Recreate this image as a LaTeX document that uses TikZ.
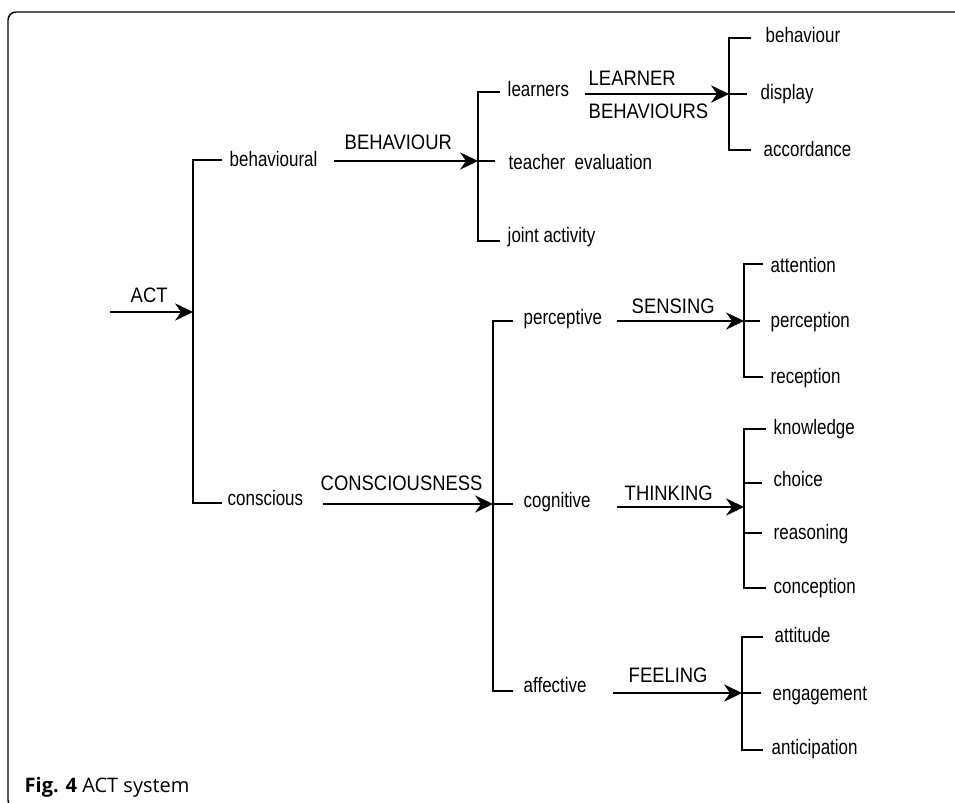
\documentclass[tikz,border=0pt]{standalone}
\usepackage{fontspec}
\setmainfont{Liberation Sans}
\newfontfamily\itmfont{Liberation Sans}[FakeStretch=0.81]
\newfontfamily\labfont{Liberation Sans}[FakeStretch=0.88]
\newfontfamily\capfont{Open Sans}
\usetikzlibrary{arrows.meta}
\begin{document}
\begin{tikzpicture}[x=0.75pt,y=-0.75pt,line width=1.1pt,
  itm/.style={anchor=west,inner sep=0pt,text height=11.2pt,text depth=0pt,font=\itmfont\fontsize{15.7}{18}\selectfont},
  lab/.style={anchor=west,inner sep=0pt,text height=11.2pt,text depth=0pt,font=\labfont\fontsize{15.7}{18}\selectfont},
  arr/.style={-{Stealth[length=13.5pt,width=13pt,inset=4.5pt]}},
  frame/.style={line width=1.1pt,rounded corners=6pt}]
\useasboundingbox (0,0) rectangle (955,802);
% frame
\draw[frame] (8,12) rectangle (968,808);
% ---------- root ----------
\coordinate (acts) at (110,312);
\coordinate (b1) at (193,312);
\coordinate (b1t) at (193,160);
\coordinate (b1b) at (193,503);
\node[lab] (actl) at (130,295.5) {ACT};
\draw[arr] (acts) -- (b1);
\draw (222,160) -- (b1t) -- (b1b) -- (222,503);
\node[itm] (behavioural) at (229,159.5) {behavioural};
\node[itm] (conscious) at (227,498.5) {conscious};
% ---------- behavioural branch ----------
\coordinate (a2s) at (334,161);
\coordinate (b2) at (478,161);
\coordinate (b2t) at (478,92);
\coordinate (b2b) at (478,241);
\node[lab] (behl) at (344,142.5) {BEHAVIOUR};
\draw[arr] (a2s) -- (b2);
\draw (500,92) -- (b2t) -- (b2b) -- (500,241);
\draw (b2) -- (495,161);
\node[itm] (learners) at (507,89.5) {learners};
\node[itm] (teacher) at (508,162.5) {teacher~~evaluation};
\node[itm] (joint) at (507,235.5) {joint activity};
% learners branch
\coordinate (a3s) at (585,94);
\coordinate (b3) at (729,94);
\coordinate (b3t) at (729,38);
\coordinate (b3b) at (729,150);
\node[lab] (learnl) at (588,78.5) {LEARNER};
\node[lab] (behsl) at (588,111.5) {BEHAVIOURS};
\draw[arr] (a3s) -- (b3);
\draw (751,38) -- (b3t) -- (b3b) -- (751,150);
\draw (b3) -- (747,94);
\node[itm] (behaviour) at (765,35.5) {behaviour};
\node[itm] (display) at (760,92.5) {display};
\node[itm] (accordance) at (763,149.5) {accordance};
% ---------- conscious branch ----------
\coordinate (a4s) at (323,504);
\coordinate (b4) at (493,504);
\coordinate (b4t) at (493,321);
\coordinate (b4b) at (493,691);
\node[lab] (consl) at (320,483.5) {CONSCIOUSNESS};
\draw[arr] (a4s) -- (b4);
\draw (513,321) -- (b4t) -- (b4b) -- (513,691);
\draw (b4) -- (513,504);
\node[itm] (perceptive) at (523,317.5) {perceptive};
\node[itm] (cognitive) at (523,500.5) {cognitive};
\node[itm] (affective) at (523,685.5) {affective};
% perceptive branch
\coordinate (a5s) at (617,321);
\coordinate (b5) at (744,321);
\coordinate (b5t) at (744,264);
\coordinate (b5b) at (744,377);
\node[lab] (sensl) at (631,306.5) {SENSING};
\draw[arr] (a5s) -- (b5);
\draw (763,264) -- (b5t) -- (b5b) -- (763,377);
\draw (b5) -- (760,321);
\node[itm] (attention) at (770,265) {attention};
\node[itm] (perception) at (770,320.5) {perception};
\node[itm] (reception) at (770,376.5) {reception};
% cognitive branch
\coordinate (a6s) at (617,507);
\coordinate (b6) at (744,507);
\coordinate (b6t) at (744,429);
\coordinate (b6b) at (744,588);
\node[lab] (thinkl) at (624,493.5) {THINKING};
\draw[arr] (a6s) -- (b6);
\draw (766,429) -- (b6t) -- (b6b) -- (766,588);
\draw (744,483) -- (762,483);
\draw (744,533) -- (762,533);
\node[itm] (knowledge) at (773,427.5) {knowledge};
\node[itm] (choice) at (773,479.5) {choice};
\node[itm] (reasoning) at (773,532.5) {reasoning};
\node[itm] (conception) at (773,586.5) {conception};
% affective branch
\coordinate (a7s) at (613,693);
\coordinate (b7) at (742,693);
\coordinate (b7t) at (742,637);
\coordinate (b7b) at (742,750);
\node[lab] (feell) at (628,675.5) {FEELING};
\draw[arr] (a7s) -- (b7);
\draw (763,637) -- (b7t) -- (b7b) -- (763,750);
\draw (b7) -- (761,693);
\node[itm] (attitude) at (774,635.5) {attitude};
\node[itm] (engagement) at (772,693.5) {engagement};
\node[itm] (anticipation) at (771,747.5) {anticipation};
% caption
\node[anchor=base west,inner sep=0pt,font=\capfont\fontsize{15}{18}\selectfont] (caption) at (24,792) {\textbf{Fig. 4} ACT system};
\end{tikzpicture}
\end{document}
